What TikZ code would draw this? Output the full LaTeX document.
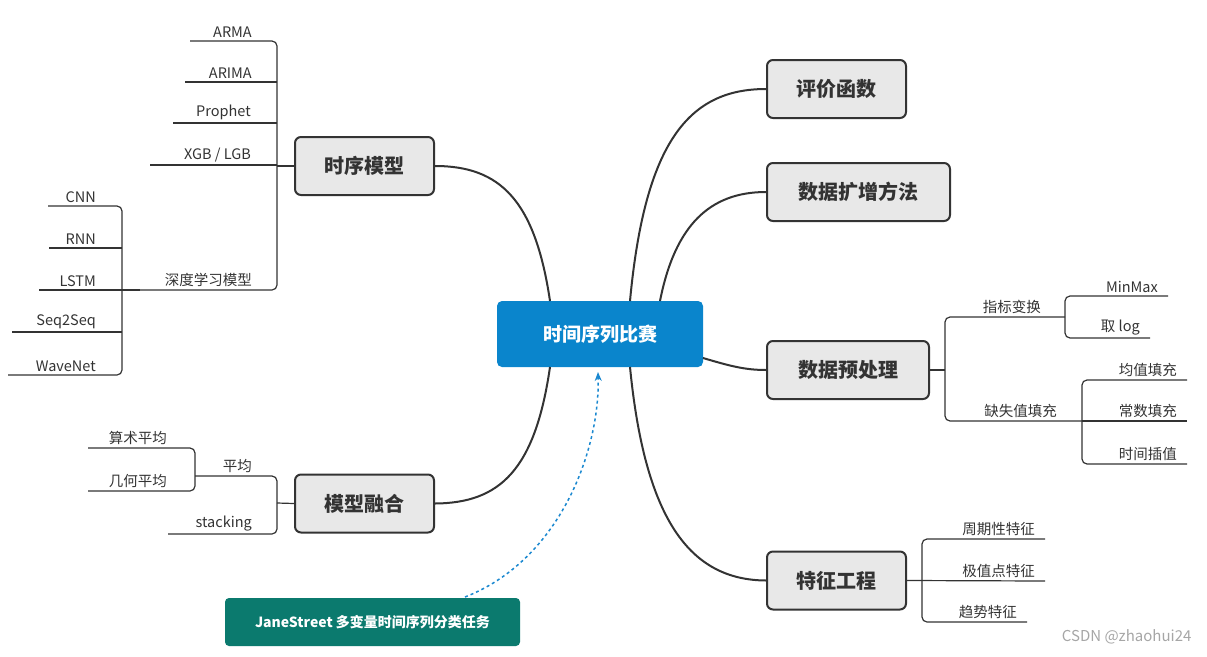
\documentclass[tikz,border=0pt]{standalone}
\usepackage{fontspec}
\setmainfont{Noto Sans CJK SC}
\usetikzlibrary{arrows.meta}
\definecolor{ln}{HTML}{333333}
\definecolor{boxf}{HTML}{E8E8E8}
\definecolor{cblue}{HTML}{0A85CC}
\definecolor{cgreen}{HTML}{0B7A6E}
\definecolor{dblue}{HTML}{1A88D0}
\begin{document}
\begin{tikzpicture}[x=1pt,y=-1pt,
  main/.style={draw=ln,line width=2pt,fill=boxf,rounded corners=6pt,font=\fontsize{20}{24}\selectfont\bfseries,text=ln,inner sep=0pt},
  lf/.style={anchor=south east,font=\fontsize{14.5}{17}\selectfont,text=ln,inner sep=1pt},
  tr/.style={draw=ln,line width=1.2pt,rounded corners=5pt},
  cv/.style={draw=ln,line width=2pt}]
\useasboundingbox (0,0) rectangle (1207,656);
% center
\node[fill=cblue,rounded corners=5pt,minimum width=206pt,minimum height=66pt,text=white,font=\fontsize{19}{23}\selectfont\bfseries] (c) at (600,334) {时间序列比赛};
% main nodes
\node[main,minimum width=139pt,minimum height=58pt] (sx) at (364.5,166) {时序模型};
\node[main,minimum width=139pt,minimum height=58pt] (rh) at (364.5,503.5) {模型融合};
\node[main,minimum width=139pt,minimum height=58pt] (pj) at (836.5,89) {评价函数};
\node[main,minimum width=183pt,minimum height=58pt] (kz) at (858.5,192) {数据扩增方法};
\node[main,minimum width=162pt,minimum height=58pt] (yc) at (848,370) {数据预处理};
\node[main,minimum width=139pt,minimum height=58pt] (tz) at (836.5,580.5) {特征工程};
% main curves
\draw[cv] (550,301) .. controls (535,200) and (500,166) .. (sx.east);
\draw[cv] (550,367) .. controls (535,470) and (500,503) .. (rh.east);
\draw[cv] (630,301) .. controls (645,140) and (690,89) .. (pj.west);
\draw[cv] (660,301) .. controls (675,225) and (710,192) .. (kz.west);
\draw[cv] (703,358) .. controls (730,366) and (745,370) .. (yc.west);
\draw[cv] (630,367) .. controls (645,520) and (690,580) .. (tz.west);
% 时序模型 subtree
\draw[tr] (190,41) -- (277,41) -- (277,290) -- (140,290);
\draw[tr] (185,82) -- (277,82);
\draw[tr] (173,123) -- (277,123);
\draw[tr] (150,165) -- (277,165);
\draw[tr] (sx.west) -- (277,166);
\node[lf] (a1) at (253,39) {ARMA};
\node[lf] (a2) at (253,80) {ARIMA};
\node[lf] (a3) at (252,121) {Prophet};
\node[lf] (a4) at (252,163) {XGB / LGB};
\node[lf] (a5) at (253,288) {深度学习模型};
\draw[tr] (48,206) -- (122,206) -- (122,375) -- (8,375);
\draw[tr] (49,248) -- (122,248);
\draw[tr] (39,290) -- (140,290);
\draw[tr] (12,332) -- (122,332);
\node[lf] (b1) at (97,204) {CNN};
\node[lf] (b2) at (97,246) {RNN};
\node[lf] (b3) at (97,288) {LSTM};
\node[lf] (b4) at (97,330) {Seq2Seq};
\node[lf] (b5) at (97,373) {WaveNet};
% 模型融合 subtree
\draw[tr] (195,476) -- (277,476) -- (277,534) -- (168,534);
\draw[tr] (rh.west) -- (277,503);
\node[lf] (m1) at (253,474) {平均};
\node[lf] (m2) at (253,532) {stacking};
\draw[tr] (88,448) -- (195,448) -- (195,491) -- (88,491);
\node[lf] (m3) at (168,446) {算术平均};
\node[lf] (m4) at (168,489) {几何平均};
% 数据预处理 subtree
\draw[tr] (1065,317) -- (945,317) -- (945,421) -- (1082,421);
\draw[tr] (yc.east) -- (945,370);
\node[lf] (p1) at (1042,315) {指标变换};
\node[lf] (p2) at (1058,419) {缺失值填充};
\draw[tr] (1168,296) -- (1065,296) -- (1065,338) -- (1150,338);
\node[lf] (q1) at (1159,294) {MinMax};
\node[lf] (q2) at (1141,336) {取 log};
\draw[tr] (1187,380) -- (1082,380) -- (1082,464) -- (1187,464);
\draw[tr] (1082,421) -- (1187,421);
\node[lf] (r1) at (1178,378) {均值填充};
\node[lf] (r2) at (1178,419) {常数填充};
\node[lf] (r3) at (1178,462) {时间插值};
% 特征工程 subtree
\draw[tr] (1045,539) -- (922,539) -- (922,622) -- (1027,622);
\draw[tr] (tz.east) -- (1045,581);
\node[lf] (f1) at (1036,537) {周期性特征};
\node[lf] (f2) at (1036,579) {极值点特征};
\node[lf] (f3) at (1018,620) {趋势特征};
% green note
\node[fill=cgreen,rounded corners=4pt,minimum width=295pt,minimum height=48pt,text=white,font=\fontsize{14}{17}\selectfont\bfseries] (g) at (372.5,622) {JaneStreet 多变量时间序列分类任务};
\draw[dblue,line width=1.5pt,dashed,-{Stealth[length=9pt,width=7pt]}] (465,597) .. controls (560,560) and (600,450) .. (598,372);
\node[text=gray!70,font=\fontsize{15}{18}\selectfont,anchor=east] (w) at (1195,637) {CSDN @zhaohui24};
\end{tikzpicture}
\end{document}
